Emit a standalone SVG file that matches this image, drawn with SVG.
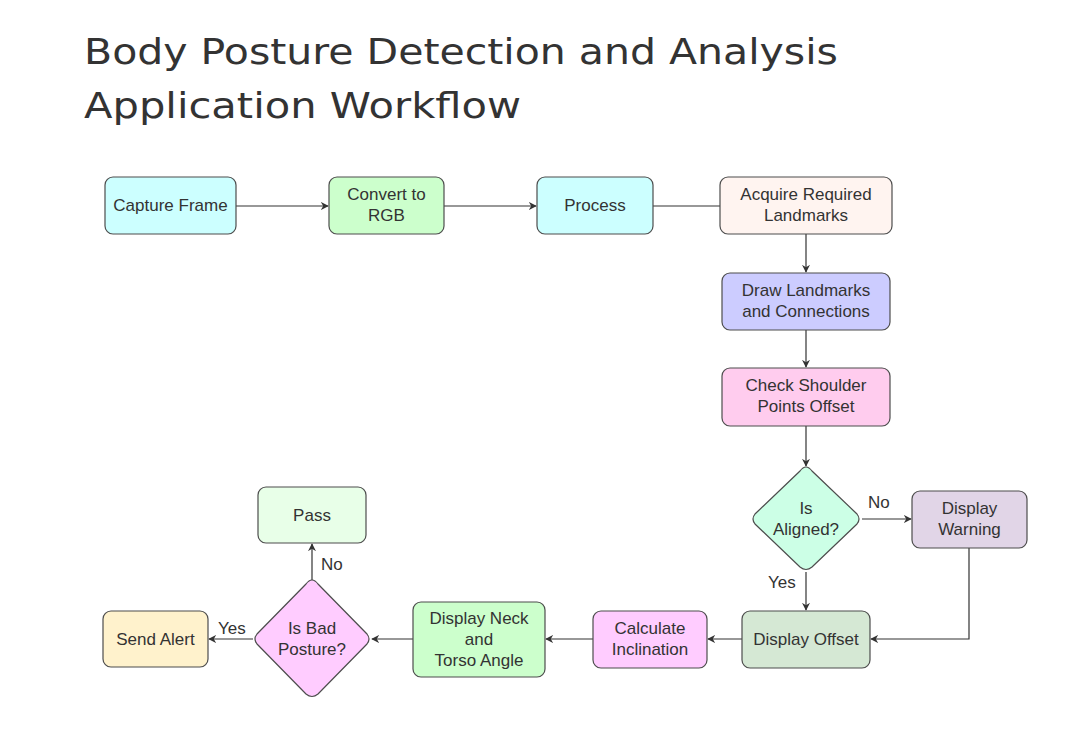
<svg xmlns="http://www.w3.org/2000/svg" width="1072" height="741" viewBox="0 0 1072 741">
<defs>
<style>
.title{font-family:"DejaVu Sans","Open Sans",sans-serif;font-size:35px;fill:#333333}
.n{stroke:#4d4d4d;stroke-width:1.2}
.t{font-family:"Liberation Sans",Arial,sans-serif;font-size:17px;fill:#333333;text-anchor:middle}
.l{font-family:"Liberation Sans",Arial,sans-serif;font-size:17px;fill:#333333}
.c{fill:none;stroke:#333333;stroke-width:1.2}
</style>
<marker id="ah" viewBox="0 0 10 10" refX="9" refY="5" markerWidth="8" markerHeight="8" markerUnits="userSpaceOnUse" orient="auto">
<path d="M0,0 L10,5 L0,10 L3,5 Z" fill="#333333"/>
</marker>
</defs>
<rect width="1072" height="741" fill="#ffffff"/>
<text class="title" x="84" y="64" textLength="754" lengthAdjust="spacingAndGlyphs">Body Posture Detection and Analysis</text>
<text class="title" x="84" y="118" textLength="437" lengthAdjust="spacingAndGlyphs">Application Workflow</text>

<g id="connectors">
<path class="c" d="M236,206 H328" marker-end="url(#ah)"/>
<path class="c" d="M444,206 H536" marker-end="url(#ah)"/>
<path class="c" d="M653,206 H720"/>
<path class="c" d="M806,234 V272" marker-end="url(#ah)"/>
<path class="c" d="M806,330 V367" marker-end="url(#ah)"/>
<path class="c" d="M806,426 V466" marker-end="url(#ah)"/>
<path class="c" d="M862,519 H911" marker-end="url(#ah)"/>
<path class="c" d="M806,572 V610" marker-end="url(#ah)"/>
<path class="c" d="M969,548 V639 H871" marker-end="url(#ah)"/>
<path class="c" d="M742,639 H708" marker-end="url(#ah)"/>
<path class="c" d="M593,639 H546" marker-end="url(#ah)"/>
<path class="c" d="M413,639 H372" marker-end="url(#ah)"/>
<path class="c" d="M253,639 H209" marker-end="url(#ah)"/>
<path class="c" d="M312,580 V544" marker-end="url(#ah)"/>
<text class="l" x="868" y="508">No</text>
<text class="l" x="768" y="588">Yes</text>
<text class="l" x="218" y="634">Yes</text>
<text class="l" x="321" y="570">No</text>
</g>

<g id="capture">
<rect class="n" x="105" y="177" width="131" height="57" rx="8" fill="#ccffff"/>
<text class="t" x="170.5" y="211">Capture Frame</text>
</g>
<g id="convert">
<rect class="n" x="329" y="177" width="115" height="57" rx="8" fill="#ccffcc"/>
<text class="t" x="386.5" y="200">Convert to</text>
<text class="t" x="386.5" y="221">RGB</text>
</g>
<g id="process">
<rect class="n" x="537" y="177" width="116" height="57" rx="8" fill="#ccffff"/>
<text class="t" x="595" y="211">Process</text>
</g>
<g id="acquire">
<rect class="n" x="720" y="177" width="172" height="57" rx="8" fill="#fff4f0"/>
<text class="t" x="806" y="200">Acquire Required</text>
<text class="t" x="806" y="221">Landmarks</text>
</g>
<g id="draw">
<rect class="n" x="722" y="273" width="168" height="57" rx="8" fill="#ccccff"/>
<text class="t" x="806" y="296">Draw Landmarks</text>
<text class="t" x="806" y="317">and Connections</text>
</g>
<g id="check">
<rect class="n" x="722" y="368" width="168" height="58" rx="8" fill="#ffccee"/>
<text class="t" x="806" y="391">Check Shoulder</text>
<text class="t" x="806" y="412">Points Offset</text>
</g>
<g id="aligned">
<path class="n" d="M806,467 Q809,467 812,471 L857,514 Q861,519 857,524 L812,567 Q806,572 800,567 L755,524 Q751,519 755,514 L800,471 Q803,467 806,467 Z" fill="#ccffe6"/>
<text class="t" x="806" y="514">Is</text>
<text class="t" x="806" y="535">Aligned?</text>
</g>
<g id="warning">
<rect class="n" x="912" y="491" width="115" height="57" rx="8" fill="#e1d5e7"/>
<text class="t" x="969.5" y="514">Display</text>
<text class="t" x="969.5" y="535">Warning</text>
</g>
<g id="offset">
<rect class="n" x="742" y="611" width="128" height="57" rx="8" fill="#d5e8d4"/>
<text class="t" x="806" y="645">Display Offset</text>
</g>
<g id="calculate">
<rect class="n" x="593" y="611" width="114" height="57" rx="8" fill="#ffccff"/>
<text class="t" x="650" y="634">Calculate</text>
<text class="t" x="650" y="655">Inclination</text>
</g>
<g id="neck">
<rect class="n" x="413" y="602" width="132" height="75" rx="8" fill="#ccffcc"/>
<text class="t" x="479" y="624">Display Neck</text>
<text class="t" x="479" y="645">and</text>
<text class="t" x="479" y="666">Torso Angle</text>
</g>
<g id="badposture">
<path class="n" d="M312,580 Q315,580 318,584 L367,634 Q371,639 367,644 L318,694 Q312,699 306,694 L257,644 Q253,639 257,634 L306,584 Q309,580 312,580 Z" fill="#ffccff"/>
<text class="t" x="312" y="634">Is Bad</text>
<text class="t" x="312" y="655">Posture?</text>
</g>
<g id="pass">
<rect class="n" x="258" y="487" width="108" height="56" rx="8" fill="#e8ffe8"/>
<text class="t" x="312" y="521">Pass</text>
</g>
<g id="alert">
<rect class="n" x="103" y="611" width="105" height="56" rx="8" fill="#fff2cc"/>
<text class="t" x="155.5" y="645">Send Alert</text>
</g>
</svg>
